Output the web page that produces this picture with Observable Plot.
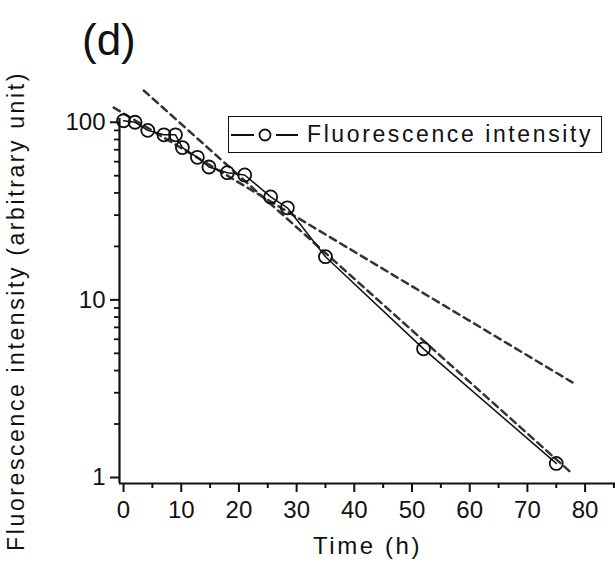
<!DOCTYPE html>
<html><head><meta charset="utf-8">
<script src="https://cdn.jsdelivr.net/npm/d3@7"></script>
<script src="https://cdn.jsdelivr.net/npm/@observablehq/plot@0.6"></script>
<style>
html,body{margin:0;padding:0;background:#fff;}
#wrap{position:relative;width:615px;height:564px;font-family:'Liberation Sans',Arial,sans-serif;color:#111;}
#title{position:absolute;left:82px;top:18px;font-size:44px;line-height:1;}
#legend{position:absolute;left:228px;top:116px;width:372px;height:35px;border:1.8px solid #111;background:#fff;display:flex;align-items:center;}
#legend span{font-size:23px;letter-spacing:2.6px;margin-left:6px;white-space:nowrap;}
</style>
</head><body><div id="wrap"><div id="chart"></div><div id="title">(d)</div><div id="legend"></div></div>
<script>
// measured data
const times = [0, 2, 4.2, 7, 9, 10.2, 12.8, 14.8, 18, 21, 25.5, 28.4, 35, 52, 75];
const intensity = [102, 100, 90, 85, 85, 72, 63.5, 56, 52, 50.5, 38, 33, 17.5, 5.3, 1.2];
// dashed fit lines (end points)
const fitATimes = [3.5, 77.5];
const fitAValues = [151, 1.07];
const fitBTimes = [-1.7, 77.8];
const fitBValues = [121, 3.43];
// ticks
const xTicks = [0, 10, 20, 30, 40, 50, 60, 70, 80];
const xMinorTicks = [5, 15, 25, 35, 45, 55, 65, 75, 85];
const yTicks = [1, 10, 100];
const yMinorTicks = [2, 3, 4, 5, 6, 7, 8, 9, 20, 30, 40, 50, 60, 70, 80, 90];
const xLabel = "Time (h)";
const yLabel = "Fluorescence intensity (arbitrary unit)";
const seriesName = "Fluorescence intensity";

const data = times.map((t, i) => ({t, v: intensity[i]}));
const fitA = fitATimes.map((t, i) => ({t, v: fitAValues[i]}));
const fitB = fitBTimes.map((t, i) => ({t, v: fitBValues[i]}));

const xDomain = [-0.7, 85.27];
const yDomain = [0.925, 105];
const ff = "'Liberation Sans', Arial, sans-serif";

const chart = Plot.plot({
  width: 615, height: 564,
  marginLeft: 119, marginRight: 0, marginTop: 118, marginBottom: 81,
  style: {fontFamily: ff, background: "#fff", color: "#111", overflow: "visible"},
  x: {domain: xDomain},
  y: {type: "log", domain: yDomain},
  marks: [
    Plot.axisX({ticks: xMinorTicks, tickSize: 5, tickFormat: () => "", strokeWidth: 2, label: null}),
    Plot.axisX({ticks: xTicks, tickSize: 9, tickPadding: 8, fontSize: 24, strokeWidth: 2, label: null, tickFormat: d => String(d)}),
    Plot.axisY({ticks: yMinorTicks, tickSize: 5, tickFormat: () => "", strokeWidth: 1.8, label: null}),
    Plot.axisY({ticks: yTicks, tickSize: 9, tickPadding: 5, fontSize: 24, strokeWidth: 2, label: null, tickFormat: d => String(d)}),
    Plot.ruleX([xDomain[0]], {y1: yDomain[0], y2: yDomain[1], strokeWidth: 2.2, stroke: "#111"}),
    Plot.ruleY([yDomain[0]], {x1: xDomain[0], x2: xDomain[1], strokeWidth: 2.2, stroke: "#111"}),
    Plot.line(fitA, {x: "t", y: "v", stroke: "#333", strokeWidth: 2.5, strokeDasharray: "7,5"}),
    Plot.line(fitB, {x: "t", y: "v", stroke: "#333", strokeWidth: 2.5, strokeDasharray: "7,5"}),
    Plot.line(data, {x: "t", y: "v", stroke: "#111", strokeWidth: 1.5}),
    Plot.dot(data, {x: "t", y: "v", r: 6.5, stroke: "#111", strokeWidth: 1.8, fill: "none"}),
    Plot.text([xLabel], {text: d => d, frameAnchor: "bottom", textAnchor: "middle", lineAnchor: "middle", dy: 63, fontSize: 24, fill: "#111"}),
    Plot.text([yLabel], {text: d => d, frameAnchor: "left", textAnchor: "middle", lineAnchor: "middle", dx: -103, dy: 10, rotate: -90, fontSize: 23, fill: "#111"})
  ]
});
d3.select(chart).selectAll("text").filter(function() {
  return this.textContent === xLabel || this.textContent === yLabel;
}).attr("letter-spacing", "2.6px");
document.getElementById("chart").appendChild(chart);

// legend
const leg = d3.select("#legend");
const sym = leg.append("svg").attr("width", 72).attr("height", 32).style("display", "block");
sym.append("line").attr("x1", 2).attr("x2", 25).attr("y1", 16).attr("y2", 16).attr("stroke", "#111").attr("stroke-width", 2);
sym.append("line").attr("x1", 47).attr("x2", 69).attr("y1", 16).attr("y2", 16).attr("stroke", "#111").attr("stroke-width", 2);
sym.append("circle").attr("cx", 36).attr("cy", 16).attr("r", 5.5).attr("fill", "none").attr("stroke", "#111").attr("stroke-width", 1.8);
leg.append("span").text(seriesName);
</script>
</body></html>
